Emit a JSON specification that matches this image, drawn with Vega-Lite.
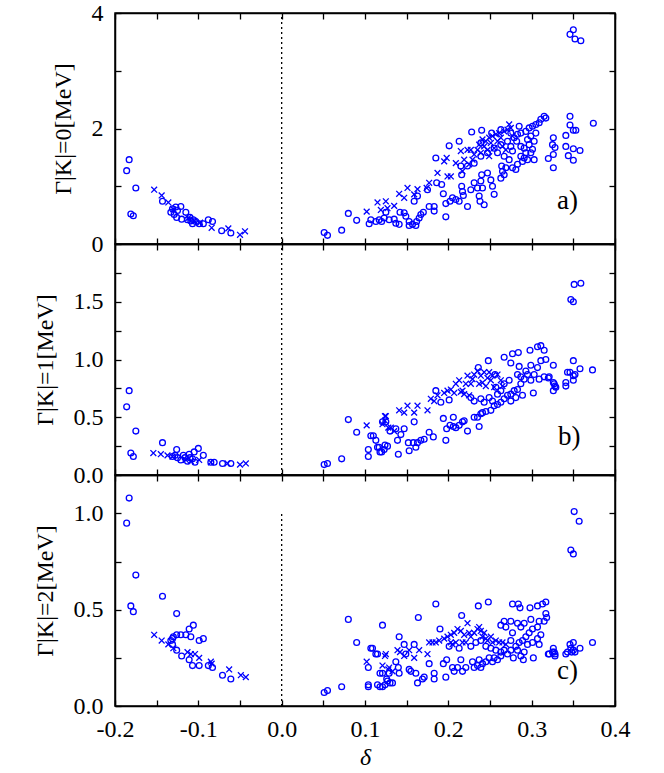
{
"$schema":"https://vega.github.io/schema/vega-lite/v6.json",
"background":"white",
"padding":{"left":32,"top":0,"right":10,"bottom":2},
"spacing":0,
"bounds":"flush",
"datasets":{
"a":[
{"d":-0.186,"g":1.27,"t":"o"},{"d":-0.183,"g":1.46,"t":"o"},{"d":-0.175,"g":0.97,"t":"o"},{"d":-0.181,"g":0.52,"t":"o"},{"d":-0.178,"g":0.49,"t":"o"},{"d":-0.143,"g":0.74,"t":"o"},{"d":-0.133,"g":0.55,"t":"o"},{"d":-0.131,"g":0.61,"t":"o"},{"d":-0.129,"g":0.51,"t":"o"},{"d":-0.127,"g":0.64,"t":"o"},{"d":-0.125,"g":0.58,"t":"o"},{"d":-0.126,"g":0.46,"t":"o"},{"d":-0.121,"g":0.65,"t":"o"},{"d":-0.115,"g":0.55,"t":"o"},{"d":-0.12,"g":0.43,"t":"o"},{"d":-0.113,"g":0.42,"t":"o"},{"d":-0.11,"g":0.46,"t":"o"},{"d":-0.109,"g":0.4,"t":"o"},{"d":-0.106,"g":0.42,"t":"o"},{"d":-0.103,"g":0.39,"t":"o"},{"d":-0.107,"g":0.35,"t":"o"},{"d":-0.099,"g":0.35,"t":"o"},{"d":-0.094,"g":0.35,"t":"o"},{"d":-0.088,"g":0.42,"t":"o"},{"d":-0.083,"g":0.39,"t":"o"},{"d":-0.072,"g":0.23,"t":"o"},{"d":-0.061,"g":0.19,"t":"o"},
{"d":0.051,"g":0.2,"t":"o"},{"d":0.055,"g":0.15,"t":"o"},{"d":0.072,"g":0.24,"t":"o"},{"d":0.08,"g":0.53,"t":"o"},{"d":0.09,"g":0.41,"t":"o"},
{"d":0.105,"g":0.35,"t":"o"},{"d":0.107,"g":0.42,"t":"o"},{"d":0.113,"g":0.39,"t":"o"},{"d":0.117,"g":0.42,"t":"o"},{"d":0.12,"g":0.39,"t":"o"},{"d":0.123,"g":0.45,"t":"o"},{"d":0.125,"g":0.55,"t":"o"},{"d":0.129,"g":0.42,"t":"o"},{"d":0.135,"g":0.43,"t":"o"},{"d":0.137,"g":0.36,"t":"o"},{"d":0.141,"g":0.34,"t":"o"},{"d":0.142,"g":0.55,"t":"o"},{"d":0.147,"g":0.54,"t":"o"},{"d":0.149,"g":0.48,"t":"o"},{"d":0.153,"g":0.39,"t":"o"},{"d":0.153,"g":0.32,"t":"o"},{"d":0.157,"g":0.34,"t":"o"},{"d":0.161,"g":0.32,"t":"o"},{"d":0.162,"g":0.39,"t":"o"},{"d":0.165,"g":0.45,"t":"o"},{"d":0.167,"g":0.51,"t":"o"},{"d":0.17,"g":0.55,"t":"o"},{"d":0.177,"g":0.65,"t":"o"},{"d":0.183,"g":0.65,"t":"o"},{"d":0.183,"g":0.57,"t":"o"},{"d":0.197,"g":0.47,"t":"o"},{"d":0.197,"g":0.7,"t":"o"},{"d":0.202,"g":0.74,"t":"o"},{"d":0.205,"g":0.8,"t":"o"},{"d":0.209,"g":0.77,"t":"o"},{"d":0.213,"g":0.74,"t":"o"},{"d":0.216,"g":1.0,"t":"o"},{"d":0.217,"g":0.91,"t":"o"},{"d":0.218,"g":0.84,"t":"o"},{"d":0.223,"g":0.65,"t":"o"},{"d":0.231,"g":1.06,"t":"o"},{"d":0.235,"g":0.97,"t":"o"},{"d":0.239,"g":1.09,"t":"o"},{"d":0.237,"g":0.83,"t":"o"},{"d":0.238,"g":0.74,"t":"o"},{"d":0.241,"g":0.97,"t":"o"},{"d":0.243,"g":0.68,"t":"o"},{"d":0.247,"g":1.23,"t":"o"},{"d":0.251,"g":1.11,"t":"o"},{"d":0.253,"g":1.0,"t":"o"},{"d":0.255,"g":0.86,"t":"o"},{"d":0.24,"g":1.2,"t":"o"},{"d":0.263,"g":1.14,"t":"o"},{"d":0.265,"g":1.26,"t":"o"},{"d":0.267,"g":1.2,"t":"o"},{"d":0.264,"g":1.35,"t":"o"},{"d":0.269,"g":1.32,"t":"o"},{"d":0.273,"g":1.46,"t":"o"},{"d":0.277,"g":1.32,"t":"o"},{"d":0.281,"g":1.29,"t":"o"},{"d":0.283,"g":1.38,"t":"o"},{"d":0.287,"g":1.52,"t":"o"},{"d":0.289,"g":1.43,"t":"o"},{"d":0.291,"g":1.49,"t":"o"},{"d":0.293,"g":1.58,"t":"o"},{"d":0.295,"g":1.46,"t":"o"},{"d":0.299,"g":1.58,"t":"o"},{"d":0.303,"g":1.46,"t":"o"},{"d":0.301,"g":1.64,"t":"o"},{"d":0.275,"g":1.69,"t":"o"},{"d":0.277,"g":1.61,"t":"o"},{"d":0.282,"g":1.78,"t":"o"},{"d":0.287,"g":1.69,"t":"o"},{"d":0.291,"g":1.66,"t":"o"},{"d":0.295,"g":1.81,"t":"o"},{"d":0.297,"g":1.72,"t":"o"},{"d":0.299,"g":1.87,"t":"o"},{"d":0.303,"g":1.78,"t":"o"},{"d":0.305,"g":1.92,"t":"o"},{"d":0.227,"g":0.94,"t":"o"},{"d":0.215,"g":1.35,"t":"o"},{"d":0.216,"g":1.2,"t":"o"},{"d":0.185,"g":1.49,"t":"o"},{"d":0.201,"g":1.7,"t":"o"},{"d":0.213,"g":1.78,"t":"o"},{"d":0.228,"g":1.94,"t":"o"},{"d":0.24,"g":1.97,"t":"o"},{"d":0.252,"g":1.92,"t":"o"},{"d":0.263,"g":1.98,"t":"o"},{"d":0.275,"g":1.92,"t":"o"},{"d":0.285,"g":2.04,"t":"o"},{"d":0.239,"g":1.75,"t":"o"},{"d":0.186,"g":1.06,"t":"o"},{"d":0.192,"g":1.03,"t":"o"},{"d":0.194,"g":0.87,"t":"o"},{"d":0.175,"g":0.94,"t":"o"},{"d":0.159,"g":0.74,"t":"o"},{"d":0.163,"g":0.83,"t":"o"},
{"d":0.311,"g":2.16,"t":"o"},{"d":0.315,"g":2.21,"t":"o"},{"d":0.317,"g":2.18,"t":"o"},{"d":0.309,"g":2.1,"t":"o"},{"d":0.305,"g":2.07,"t":"o"},{"d":0.301,"g":2.04,"t":"o"},{"d":0.297,"g":2.01,"t":"o"},{"d":0.293,"g":1.95,"t":"o"},{"d":0.287,"g":1.92,"t":"o"},{"d":0.283,"g":1.9,"t":"o"},{"d":0.279,"g":1.84,"t":"o"},{"d":0.271,"g":1.78,"t":"o"},{"d":0.263,"g":1.72,"t":"o"},{"d":0.255,"g":1.66,"t":"o"},{"d":0.247,"g":1.58,"t":"o"},{"d":0.239,"g":1.52,"t":"o"},{"d":0.231,"g":1.4,"t":"o"},{"d":0.223,"g":1.35,"t":"o"},{"d":0.259,"g":1.58,"t":"o"},{"d":0.267,"g":1.52,"t":"o"},
{"d":0.35,"g":3.71,"t":"o"},{"d":0.346,"g":3.63,"t":"o"},{"d":0.352,"g":3.55,"t":"o"},{"d":0.359,"g":3.52,"t":"o"},{"d":0.346,"g":2.21,"t":"o"},{"d":0.346,"g":2.06,"t":"o"},{"d":0.35,"g":1.97,"t":"o"},{"d":0.353,"g":1.97,"t":"o"},{"d":0.341,"g":1.88,"t":"o"},{"d":0.341,"g":1.69,"t":"o"},{"d":0.344,"g":1.53,"t":"o"},{"d":0.35,"g":1.45,"t":"o"},{"d":0.35,"g":1.65,"t":"o"},{"d":0.358,"g":1.62,"t":"o"},{"d":0.374,"g":2.09,"t":"o"},{"d":0.326,"g":1.84,"t":"o"},{"d":0.325,"g":1.72,"t":"o"},{"d":0.328,"g":1.67,"t":"o"},{"d":0.326,"g":1.55,"t":"o"},{"d":0.32,"g":1.48,"t":"o"},{"d":0.326,"g":1.32,"t":"o"},
{"d":-0.153,"g":0.94,"t":"x"},{"d":-0.144,"g":0.84,"t":"x"},{"d":-0.136,"g":0.72,"t":"x"},{"d":-0.13,"g":0.6,"t":"x"},{"d":-0.112,"g":0.45,"t":"x"},{"d":-0.105,"g":0.4,"t":"x"},{"d":-0.098,"g":0.37,"t":"x"},{"d":-0.084,"g":0.28,"t":"x"},{"d":-0.064,"g":0.27,"t":"x"},{"d":-0.05,"g":0.16,"t":"x"},{"d":-0.044,"g":0.22,"t":"x"},
{"d":0.102,"g":0.56,"t":"x"},{"d":0.115,"g":0.72,"t":"x"},{"d":0.119,"g":0.59,"t":"x"},{"d":0.125,"g":0.74,"t":"x"},{"d":0.127,"g":0.62,"t":"x"},{"d":0.135,"g":0.66,"t":"x"},{"d":0.141,"g":0.87,"t":"x"},{"d":0.147,"g":0.8,"t":"x"},{"d":0.151,"g":0.97,"t":"x"},{"d":0.159,"g":0.86,"t":"x"},{"d":0.163,"g":0.95,"t":"x"},{"d":0.174,"g":0.97,"t":"x"},{"d":0.177,"g":1.06,"t":"x"},{"d":0.187,"g":1.23,"t":"x"},{"d":0.195,"g":1.43,"t":"x"},{"d":0.198,"g":1.49,"t":"x"},{"d":0.199,"g":1.17,"t":"x"},{"d":0.203,"g":1.17,"t":"x"},{"d":0.209,"g":1.4,"t":"x"},{"d":0.215,"g":1.61,"t":"x"},{"d":0.217,"g":1.26,"t":"x"},{"d":0.219,"g":1.46,"t":"x"},{"d":0.223,"g":1.63,"t":"x"},{"d":0.225,"g":1.38,"t":"x"},{"d":0.227,"g":1.63,"t":"x"},{"d":0.229,"g":1.46,"t":"x"},{"d":0.231,"g":1.55,"t":"x"},{"d":0.235,"g":1.63,"t":"x"},{"d":0.237,"g":1.72,"t":"x"},{"d":0.239,"g":1.58,"t":"x"},{"d":0.241,"g":1.81,"t":"x"},{"d":0.243,"g":1.69,"t":"x"},{"d":0.245,"g":1.78,"t":"x"},{"d":0.247,"g":1.63,"t":"x"},{"d":0.249,"g":1.84,"t":"x"},{"d":0.251,"g":1.75,"t":"x"},{"d":0.253,"g":1.87,"t":"x"},{"d":0.255,"g":1.66,"t":"x"},{"d":0.257,"g":1.9,"t":"x"},{"d":0.259,"g":1.78,"t":"x"},{"d":0.261,"g":1.92,"t":"x"},{"d":0.263,"g":1.84,"t":"x"},{"d":0.267,"g":1.95,"t":"x"},{"d":0.271,"g":1.98,"t":"x"},{"d":0.273,"g":2.07,"t":"x"},{"d":0.275,"g":2.01,"t":"x"},{"d":0.277,"g":1.87,"t":"x"},{"d":0.265,"g":1.69,"t":"x"},{"d":0.269,"g":1.63,"t":"x"},{"d":0.249,"g":1.52,"t":"x"}
],
"b":[
{"d":-0.186,"g":0.59,"t":"o"},{"d":-0.183,"g":0.73,"t":"o"},{"d":-0.175,"g":0.38,"t":"o"},{"d":-0.181,"g":0.19,"t":"o"},{"d":-0.178,"g":0.16,"t":"o"},{"d":-0.143,"g":0.28,"t":"o"},{"d":-0.126,"g":0.22,"t":"o"},{"d":-0.1,"g":0.23,"t":"o"},{"d":-0.105,"g":0.2,"t":"o"},{"d":-0.094,"g":0.17,"t":"o"},{"d":-0.111,"g":0.18,"t":"o"},{"d":-0.131,"g":0.16,"t":"o"},{"d":-0.125,"g":0.15,"t":"o"},{"d":-0.121,"g":0.13,"t":"o"},{"d":-0.116,"g":0.15,"t":"o"},{"d":-0.113,"g":0.12,"t":"o"},{"d":-0.107,"g":0.14,"t":"o"},{"d":-0.104,"g":0.11,"t":"o"},{"d":-0.128,"g":0.17,"t":"o"},{"d":-0.071,"g":0.1,"t":"o"},{"d":-0.061,"g":0.1,"t":"o"},{"d":-0.085,"g":0.11,"t":"o"},{"d":-0.081,"g":0.11,"t":"o"},{"d":-0.118,"g":0.17,"t":"o"},{"d":-0.11,"g":0.15,"t":"o"},
{"d":0.051,"g":0.09,"t":"o"},{"d":0.055,"g":0.1,"t":"o"},{"d":0.072,"g":0.14,"t":"o"},{"d":0.08,"g":0.48,"t":"o"},{"d":0.09,"g":0.37,"t":"o"},{"d":0.104,"g":0.22,"t":"o"},{"d":0.104,"g":0.16,"t":"o"},{"d":0.107,"g":0.34,"t":"o"},{"d":0.113,"g":0.3,"t":"o"},{"d":0.115,"g":0.24,"t":"o"},{"d":0.118,"g":0.2,"t":"o"},{"d":0.121,"g":0.46,"t":"o"},{"d":0.124,"g":0.26,"t":"o"},
{"d":0.11,"g":0.34,"t":"o"},{"d":0.117,"g":0.24,"t":"o"},{"d":0.12,"g":0.2,"t":"o"},{"d":0.123,"g":0.22,"t":"o"},{"d":0.127,"g":0.25,"t":"o"},{"d":0.125,"g":0.46,"t":"o"},{"d":0.13,"g":0.38,"t":"o"},{"d":0.137,"g":0.4,"t":"o"},{"d":0.139,"g":0.3,"t":"o"},{"d":0.14,"g":0.18,"t":"o"},{"d":0.143,"g":0.35,"t":"o"},{"d":0.147,"g":0.4,"t":"o"},{"d":0.152,"g":0.28,"t":"o"},{"d":0.153,"g":0.21,"t":"o"},{"d":0.158,"g":0.28,"t":"o"},{"d":0.161,"g":0.24,"t":"o"},{"d":0.163,"g":0.28,"t":"o"},{"d":0.167,"g":0.3,"t":"o"},{"d":0.171,"g":0.31,"t":"o"},{"d":0.159,"g":0.46,"t":"o"},{"d":0.177,"g":0.37,"t":"o"},{"d":0.182,"g":0.33,"t":"o"},{"d":0.185,"g":0.73,"t":"o"},{"d":0.191,"g":0.63,"t":"o"},{"d":0.194,"g":0.49,"t":"o"},{"d":0.197,"g":0.3,"t":"o"},{"d":0.198,"g":0.4,"t":"o"},{"d":0.201,"g":0.65,"t":"o"},{"d":0.202,"g":0.43,"t":"o"},{"d":0.206,"g":0.5,"t":"o"},{"d":0.206,"g":0.42,"t":"o"},{"d":0.209,"g":0.41,"t":"o"},{"d":0.213,"g":0.43,"t":"o"},{"d":0.217,"g":0.46,"t":"o"},{"d":0.219,"g":0.47,"t":"o"},{"d":0.223,"g":0.38,"t":"o"},{"d":0.231,"g":0.5,"t":"o"},{"d":0.235,"g":0.5,"t":"o"},{"d":0.237,"g":0.42,"t":"o"},{"d":0.239,"g":0.53,"t":"o"},{"d":0.241,"g":0.54,"t":"o"},{"d":0.245,"g":0.55,"t":"o"},{"d":0.251,"g":0.56,"t":"o"},{"d":0.236,"g":0.93,"t":"o"},{"d":0.248,"g":0.99,"t":"o"},{"d":0.256,"g":0.87,"t":"o"},{"d":0.267,"g":1.02,"t":"o"},{"d":0.275,"g":0.97,"t":"o"},{"d":0.277,"g":1.05,"t":"o"},{"d":0.284,"g":1.06,"t":"o"},{"d":0.285,"g":0.94,"t":"o"},{"d":0.298,"g":1.08,"t":"o"},{"d":0.307,"g":1.11,"t":"o"},{"d":0.311,"g":1.12,"t":"o"},{"d":0.315,"g":1.08,"t":"o"},{"d":0.317,"g":1.0,"t":"o"},{"d":0.311,"g":0.99,"t":"o"},{"d":0.307,"g":0.93,"t":"o"},{"d":0.299,"g":0.95,"t":"o"},{"d":0.303,"g":0.87,"t":"o"},{"d":0.295,"g":0.87,"t":"o"},{"d":0.293,"g":0.9,"t":"o"},{"d":0.291,"g":0.83,"t":"o"},{"d":0.287,"g":0.79,"t":"o"},{"d":0.283,"g":0.74,"t":"o"},{"d":0.279,"g":0.73,"t":"o"},{"d":0.275,"g":0.7,"t":"o"},{"d":0.271,"g":0.69,"t":"o"},{"d":0.267,"g":0.66,"t":"o"},{"d":0.263,"g":0.63,"t":"o"},{"d":0.259,"g":0.61,"t":"o"},{"d":0.255,"g":0.6,"t":"o"},{"d":0.302,"g":0.71,"t":"o"},{"d":0.289,"g":0.69,"t":"o"},{"d":0.281,"g":0.67,"t":"o"},{"d":0.275,"g":0.64,"t":"o"},{"d":0.283,"g":0.87,"t":"o"},{"d":0.287,"g":0.85,"t":"o"},{"d":0.299,"g":0.82,"t":"o"},{"d":0.309,"g":0.83,"t":"o"},{"d":0.315,"g":0.85,"t":"o"},{"d":0.321,"g":0.85,"t":"o"},{"d":0.326,"g":0.95,"t":"o"},{"d":0.327,"g":0.79,"t":"o"},{"d":0.326,"g":0.73,"t":"o"},{"d":0.239,"g":0.66,"t":"o"},{"d":0.243,"g":0.63,"t":"o"},{"d":0.249,"g":0.67,"t":"o"},{"d":0.253,"g":0.64,"t":"o"},{"d":0.231,"g":0.64,"t":"o"},{"d":0.227,"g":0.67,"t":"o"},{"d":0.259,"g":0.7,"t":"o"},{"d":0.257,"g":0.76,"t":"o"},{"d":0.263,"g":0.73,"t":"o"},{"d":0.267,"g":0.79,"t":"o"},{"d":0.273,"g":0.82,"t":"o"},
{"d":0.347,"g":1.52,"t":"o"},{"d":0.35,"g":1.5,"t":"o"},{"d":0.351,"g":1.65,"t":"o"},{"d":0.359,"g":1.66,"t":"o"},{"d":0.35,"g":0.99,"t":"o"},{"d":0.343,"g":0.89,"t":"o"},{"d":0.346,"g":0.89,"t":"o"},{"d":0.35,"g":0.86,"t":"o"},{"d":0.352,"g":0.87,"t":"o"},{"d":0.358,"g":0.92,"t":"o"},{"d":0.373,"g":0.91,"t":"o"},{"d":0.35,"g":0.82,"t":"o"},{"d":0.341,"g":0.8,"t":"o"},{"d":0.341,"g":0.77,"t":"o"},{"d":0.32,"g":0.84,"t":"o"},{"d":0.326,"g":0.8,"t":"o"},{"d":0.328,"g":0.77,"t":"o"},{"d":0.329,"g":0.76,"t":"o"},
{"d":-0.154,"g":0.19,"t":"x"},{"d":-0.145,"g":0.18,"t":"x"},{"d":-0.137,"g":0.17,"t":"x"},{"d":-0.131,"g":0.16,"t":"x"},{"d":-0.115,"g":0.13,"t":"x"},{"d":-0.109,"g":0.12,"t":"x"},{"d":-0.099,"g":0.13,"t":"x"},{"d":-0.085,"g":0.11,"t":"x"},{"d":-0.065,"g":0.1,"t":"x"},{"d":-0.05,"g":0.09,"t":"x"},{"d":-0.043,"g":0.1,"t":"x"},
{"d":0.102,"g":0.43,"t":"x"},{"d":0.124,"g":0.51,"t":"x"},{"d":0.121,"g":0.44,"t":"x"},{"d":0.128,"g":0.41,"t":"x"},{"d":0.125,"g":0.51,"t":"x"},{"d":0.124,"g":0.47,"t":"x"},{"d":0.131,"g":0.41,"t":"x"},{"d":0.135,"g":0.38,"t":"x"},{"d":0.141,"g":0.56,"t":"x"},{"d":0.147,"g":0.54,"t":"x"},{"d":0.151,"g":0.6,"t":"x"},{"d":0.159,"g":0.54,"t":"x"},{"d":0.163,"g":0.6,"t":"x"},{"d":0.175,"g":0.56,"t":"x"},{"d":0.179,"g":0.66,"t":"x"},{"d":0.183,"g":0.64,"t":"x"},{"d":0.187,"g":0.69,"t":"x"},{"d":0.195,"g":0.71,"t":"x"},{"d":0.199,"g":0.73,"t":"x"},{"d":0.203,"g":0.74,"t":"x"},{"d":0.209,"g":0.79,"t":"x"},{"d":0.213,"g":0.82,"t":"x"},{"d":0.215,"g":0.72,"t":"x"},{"d":0.219,"g":0.7,"t":"x"},{"d":0.223,"g":0.86,"t":"x"},{"d":0.225,"g":0.69,"t":"x"},{"d":0.227,"g":0.79,"t":"x"},{"d":0.229,"g":0.83,"t":"x"},{"d":0.231,"g":0.87,"t":"x"},{"d":0.235,"g":0.9,"t":"x"},{"d":0.237,"g":0.79,"t":"x"},{"d":0.239,"g":0.86,"t":"x"},{"d":0.241,"g":0.8,"t":"x"},{"d":0.243,"g":0.89,"t":"x"},{"d":0.245,"g":0.77,"t":"x"},{"d":0.247,"g":0.84,"t":"x"},{"d":0.249,"g":0.89,"t":"x"},{"d":0.251,"g":0.82,"t":"x"},{"d":0.253,"g":0.86,"t":"x"},{"d":0.255,"g":0.76,"t":"x"},{"d":0.259,"g":0.87,"t":"x"},{"d":0.263,"g":0.82,"t":"x"},{"d":0.265,"g":0.77,"t":"x"},{"d":0.221,"g":0.79,"t":"x"},{"d":0.217,"g":0.73,"t":"x"},{"d":0.207,"g":0.71,"t":"x"}
],
"c":[
{"d":-0.183,"g":1.08,"t":"o"},{"d":-0.186,"g":0.95,"t":"o"},{"d":-0.175,"g":0.68,"t":"o"},{"d":-0.181,"g":0.52,"t":"o"},{"d":-0.178,"g":0.49,"t":"o"},{"d":-0.143,"g":0.57,"t":"o"},{"d":-0.126,"g":0.48,"t":"o"},{"d":-0.106,"g":0.42,"t":"o"},{"d":-0.111,"g":0.4,"t":"o"},{"d":-0.109,"g":0.36,"t":"o"},{"d":-0.115,"g":0.37,"t":"o"},{"d":-0.121,"g":0.37,"t":"o"},{"d":-0.126,"g":0.37,"t":"o"},{"d":-0.13,"g":0.36,"t":"o"},{"d":-0.131,"g":0.35,"t":"o"},{"d":-0.133,"g":0.34,"t":"o"},{"d":-0.131,"g":0.32,"t":"o"},{"d":-0.126,"g":0.29,"t":"o"},{"d":-0.12,"g":0.26,"t":"o"},{"d":-0.111,"g":0.24,"t":"o"},{"d":-0.107,"g":0.21,"t":"o"},{"d":-0.099,"g":0.21,"t":"o"},{"d":-0.099,"g":0.34,"t":"o"},{"d":-0.094,"g":0.35,"t":"o"},{"d":-0.088,"g":0.21,"t":"o"},{"d":-0.083,"g":0.2,"t":"o"},{"d":-0.071,"g":0.16,"t":"o"},{"d":-0.061,"g":0.14,"t":"o"},
{"d":0.051,"g":0.07,"t":"o"},{"d":0.055,"g":0.08,"t":"o"},{"d":0.072,"g":0.1,"t":"o"},{"d":0.08,"g":0.45,"t":"o"},{"d":0.09,"g":0.33,"t":"o"},{"d":0.107,"g":0.3,"t":"o"},{"d":0.113,"g":0.27,"t":"o"},{"d":0.104,"g":0.2,"t":"o"},{"d":0.104,"g":0.11,"t":"o"},{"d":0.104,"g":0.1,"t":"o"},{"d":0.115,"g":0.11,"t":"o"},{"d":0.118,"g":0.17,"t":"o"},{"d":0.118,"g":0.1,"t":"o"},{"d":0.124,"g":0.11,"t":"o"},{"d":0.13,"g":0.12,"t":"o"},{"d":0.121,"g":0.42,"t":"o"},
{"d":0.121,"g":0.1,"t":"o"},{"d":0.127,"g":0.13,"t":"o"},{"d":0.133,"g":0.12,"t":"o"},{"d":0.109,"g":0.3,"t":"o"},{"d":0.115,"g":0.27,"t":"o"},{"d":0.126,"g":0.14,"t":"o"},{"d":0.121,"g":0.17,"t":"o"},{"d":0.129,"g":0.17,"t":"o"},{"d":0.137,"g":0.23,"t":"o"},{"d":0.141,"g":0.36,"t":"o"},{"d":0.14,"g":0.2,"t":"o"},{"d":0.141,"g":0.17,"t":"o"},{"d":0.147,"g":0.32,"t":"o"},{"d":0.149,"g":0.27,"t":"o"},{"d":0.153,"g":0.19,"t":"o"},{"d":0.155,"g":0.18,"t":"o"},{"d":0.159,"g":0.32,"t":"o"},{"d":0.161,"g":0.17,"t":"o"},{"d":0.163,"g":0.12,"t":"o"},{"d":0.164,"g":0.46,"t":"o"},{"d":0.169,"g":0.14,"t":"o"},{"d":0.171,"g":0.15,"t":"o"},{"d":0.177,"g":0.22,"t":"o"},{"d":0.183,"g":0.17,"t":"o"},{"d":0.183,"g":0.14,"t":"o"},{"d":0.185,"g":0.53,"t":"o"},{"d":0.19,"g":0.4,"t":"o"},{"d":0.194,"g":0.22,"t":"o"},{"d":0.197,"g":0.15,"t":"o"},{"d":0.198,"g":0.24,"t":"o"},{"d":0.201,"g":0.31,"t":"o"},{"d":0.205,"g":0.2,"t":"o"},{"d":0.207,"g":0.18,"t":"o"},{"d":0.211,"g":0.2,"t":"o"},{"d":0.215,"g":0.24,"t":"o"},{"d":0.216,"g":0.47,"t":"o"},{"d":0.217,"g":0.18,"t":"o"},{"d":0.213,"g":0.3,"t":"o"},{"d":0.221,"g":0.2,"t":"o"},{"d":0.229,"g":0.23,"t":"o"},{"d":0.231,"g":0.2,"t":"o"},{"d":0.235,"g":0.21,"t":"o"},{"d":0.237,"g":0.24,"t":"o"},{"d":0.236,"g":0.52,"t":"o"},{"d":0.239,"g":0.2,"t":"o"},{"d":0.241,"g":0.22,"t":"o"},{"d":0.245,"g":0.23,"t":"o"},{"d":0.248,"g":0.54,"t":"o"},{"d":0.249,"g":0.25,"t":"o"},{"d":0.253,"g":0.23,"t":"o"},{"d":0.255,"g":0.25,"t":"o"},{"d":0.259,"g":0.24,"t":"o"},{"d":0.263,"g":0.26,"t":"o"},{"d":0.267,"g":0.44,"t":"o"},{"d":0.275,"g":0.44,"t":"o"},{"d":0.277,"g":0.53,"t":"o"},{"d":0.284,"g":0.53,"t":"o"},{"d":0.298,"g":0.51,"t":"o"},{"d":0.307,"g":0.52,"t":"o"},{"d":0.313,"g":0.53,"t":"o"},{"d":0.317,"g":0.54,"t":"o"},{"d":0.317,"g":0.48,"t":"o"},{"d":0.318,"g":0.46,"t":"o"},{"d":0.315,"g":0.44,"t":"o"},{"d":0.309,"g":0.44,"t":"o"},{"d":0.307,"g":0.41,"t":"o"},{"d":0.301,"g":0.4,"t":"o"},{"d":0.297,"g":0.38,"t":"o"},{"d":0.293,"g":0.36,"t":"o"},{"d":0.289,"g":0.34,"t":"o"},{"d":0.285,"g":0.33,"t":"o"},{"d":0.281,"g":0.31,"t":"o"},{"d":0.275,"g":0.29,"t":"o"},{"d":0.271,"g":0.27,"t":"o"},{"d":0.269,"g":0.41,"t":"o"},{"d":0.263,"g":0.42,"t":"o"},{"d":0.277,"g":0.38,"t":"o"},{"d":0.283,"g":0.43,"t":"o"},{"d":0.287,"g":0.41,"t":"o"},{"d":0.291,"g":0.43,"t":"o"},{"d":0.299,"g":0.45,"t":"o"},{"d":0.301,"g":0.33,"t":"o"},{"d":0.295,"g":0.32,"t":"o"},{"d":0.291,"g":0.28,"t":"o"},{"d":0.287,"g":0.26,"t":"o"},{"d":0.283,"g":0.29,"t":"o"},{"d":0.278,"g":0.25,"t":"o"},{"d":0.29,"g":0.24,"t":"o"},{"d":0.302,"g":0.25,"t":"o"},{"d":0.275,"g":0.34,"t":"o"},{"d":0.311,"g":0.37,"t":"o"},{"d":0.309,"g":0.32,"t":"o"},{"d":0.307,"g":0.35,"t":"o"},{"d":0.321,"g":0.27,"t":"o"},{"d":0.326,"g":0.3,"t":"o"},{"d":0.328,"g":0.27,"t":"o"},{"d":0.325,"g":0.28,"t":"o"},{"d":0.286,"g":0.51,"t":"o"},{"d":0.233,"g":0.33,"t":"o"},{"d":0.239,"g":0.34,"t":"o"},{"d":0.245,"g":0.31,"t":"o"},{"d":0.251,"g":0.3,"t":"o"},{"d":0.257,"g":0.29,"t":"o"},{"d":0.263,"g":0.28,"t":"o"},{"d":0.267,"g":0.29,"t":"o"},{"d":0.227,"g":0.31,"t":"o"},
{"d":0.351,"g":1.01,"t":"o"},{"d":0.357,"g":0.96,"t":"o"},{"d":0.347,"g":0.81,"t":"o"},{"d":0.35,"g":0.79,"t":"o"},{"d":0.35,"g":0.33,"t":"o"},{"d":0.346,"g":0.32,"t":"o"},{"d":0.347,"g":0.3,"t":"o"},{"d":0.35,"g":0.29,"t":"o"},{"d":0.348,"g":0.28,"t":"o"},{"d":0.352,"g":0.28,"t":"o"},{"d":0.343,"g":0.28,"t":"o"},{"d":0.341,"g":0.27,"t":"o"},{"d":0.358,"g":0.3,"t":"o"},{"d":0.373,"g":0.33,"t":"o"},{"d":0.327,"g":0.28,"t":"o"},{"d":0.328,"g":0.26,"t":"o"},{"d":0.32,"g":0.27,"t":"o"},
{"d":-0.153,"g":0.37,"t":"x"},{"d":-0.144,"g":0.34,"t":"x"},{"d":-0.136,"g":0.32,"t":"x"},{"d":-0.13,"g":0.3,"t":"x"},{"d":-0.113,"g":0.28,"t":"x"},{"d":-0.109,"g":0.27,"t":"x"},{"d":-0.104,"g":0.27,"t":"x"},{"d":-0.099,"g":0.25,"t":"x"},{"d":-0.085,"g":0.23,"t":"x"},{"d":-0.084,"g":0.22,"t":"x"},{"d":-0.063,"g":0.19,"t":"x"},{"d":-0.049,"g":0.16,"t":"x"},{"d":-0.043,"g":0.15,"t":"x"},
{"d":0.102,"g":0.23,"t":"x"},{"d":0.124,"g":0.26,"t":"x"},{"d":0.121,"g":0.21,"t":"x"},{"d":0.128,"g":0.19,"t":"x"},{"d":0.125,"g":0.27,"t":"x"},{"d":0.129,"g":0.2,"t":"x"},{"d":0.133,"g":0.18,"t":"x"},{"d":0.139,"g":0.29,"t":"x"},{"d":0.142,"g":0.28,"t":"x"},{"d":0.147,"g":0.26,"t":"x"},{"d":0.153,"g":0.29,"t":"x"},{"d":0.159,"g":0.25,"t":"x"},{"d":0.165,"g":0.29,"t":"x"},{"d":0.175,"g":0.27,"t":"x"},{"d":0.177,"g":0.33,"t":"x"},{"d":0.181,"g":0.33,"t":"x"},{"d":0.185,"g":0.33,"t":"x"},{"d":0.189,"g":0.34,"t":"x"},{"d":0.195,"g":0.35,"t":"x"},{"d":0.199,"g":0.36,"t":"x"},{"d":0.203,"g":0.37,"t":"x"},{"d":0.207,"g":0.38,"t":"x"},{"d":0.211,"g":0.4,"t":"x"},{"d":0.215,"g":0.39,"t":"x"},{"d":0.219,"g":0.37,"t":"x"},{"d":0.223,"g":0.43,"t":"x"},{"d":0.225,"g":0.38,"t":"x"},{"d":0.227,"g":0.36,"t":"x"},{"d":0.217,"g":0.33,"t":"x"},{"d":0.221,"g":0.33,"t":"x"},{"d":0.231,"g":0.38,"t":"x"},{"d":0.235,"g":0.4,"t":"x"},{"d":0.237,"g":0.41,"t":"x"},{"d":0.239,"g":0.39,"t":"x"},{"d":0.241,"g":0.36,"t":"x"},{"d":0.243,"g":0.38,"t":"x"},{"d":0.245,"g":0.35,"t":"x"},{"d":0.247,"g":0.34,"t":"x"},{"d":0.251,"g":0.36,"t":"x"},{"d":0.253,"g":0.33,"t":"x"},{"d":0.257,"g":0.34,"t":"x"},{"d":0.261,"g":0.33,"t":"x"},{"d":0.265,"g":0.33,"t":"x"},{"d":0.269,"g":0.32,"t":"x"},{"d":0.209,"g":0.33,"t":"x"},{"d":0.205,"g":0.32,"t":"x"},{"d":0.203,"g":0.33,"t":"x"}
],
"la":[{"d":0.343,"g":0.74,"lab":"a)"}],
"lb":[{"d":0.345,"g":0.33,"lab":"b)"}],
"lc":[{"d":0.343,"g":0.18,"lab":"c)"}],
"ra":[{"x0":0,"y0":0,"y1":4}],
"rb":[{"x0":0,"y0":0,"y1":2}],
"rc":[{"x0":0,"y0":0,"y1":1}]
},
"vconcat":[
{"width":500,"height":231,
 "layer":[
  {"data":{"name":"ra"},
   "mark":{"type":"rule","color":"black","strokeWidth":1.3,"strokeDash":[2,3]},
   "encoding":{
    "x":{"field":"x0","type":"quantitative","scale":{"domain":[-0.2,0.4],"nice":false,"zero":false},"axis":{"orient":"top","values":[-0.2,-0.15,-0.1,-0.05,0,0.05,0.1,0.15,0.2,0.25,0.3,0.35,0.4],"labels":false,"title":null}},
    "y":{"field":"y0","type":"quantitative","scale":{"domain":[0,4],"nice":false,"zero":false},"axis":{"orient":"right","values":[0,1,2,3,4],"labels":false,"title":null}},
    "y2":{"field":"y1"}}},
  {"data":{"name":"a"},
   "mark":{"type":"point","filled":false,"strokeWidth":1.3,"color":"#0000ff","opacity":1,"size":34},
   "encoding":{
    "x":{"field":"d","type":"quantitative","axis":{"orient":"bottom","values":[-0.2,-0.15,-0.1,-0.05,0,0.05,0.1,0.15,0.2,0.25,0.3,0.35,0.4],"labels":false,"title":null}},
    "y":{"field":"g","type":"quantitative","axis":{"orient":"left","values":[0,1,2,3,4],"labelExpr":"datum.value % 2 === 0 ? format(datum.value, 'd') : ''","title":"Γ|K|=0[MeV]","titlePadding":16}},
    "shape":{"field":"t","type":"nominal","scale":{"domain":["o","x"],"range":["circle","M-1,-1L1,1M-1,1L1,-1"]},"legend":null}
   }},
  {"data":{"name":"la"},
   "mark":{"type":"text","font":"Liberation Serif, DejaVu Serif, serif","fontSize":27,"color":"black"},
   "encoding":{"x":{"field":"d","type":"quantitative","axis":null},"y":{"field":"g","type":"quantitative","axis":null},"text":{"field":"lab"}}}
 ],
 "resolve":{"axis":{"x":"independent","y":"independent"}}
},
{"width":500,"height":231,
 "layer":[
  {"data":{"name":"rb"},
   "mark":{"type":"rule","color":"black","strokeWidth":1.3,"strokeDash":[2,3]},
   "encoding":{
    "x":{"field":"x0","type":"quantitative","scale":{"domain":[-0.2,0.4],"nice":false,"zero":false},"axis":{"orient":"top","values":[-0.2,-0.15,-0.1,-0.05,0,0.05,0.1,0.15,0.2,0.25,0.3,0.35,0.4],"labels":false,"title":null}},
    "y":{"field":"y0","type":"quantitative","scale":{"domain":[0,2],"nice":false,"zero":false},"axis":{"orient":"right","values":[0,0.25,0.5,0.75,1,1.25,1.5,1.75],"labels":false,"title":null}},
    "y2":{"field":"y1"}}},
  {"data":{"name":"b"},
   "mark":{"type":"point","filled":false,"strokeWidth":1.3,"color":"#0000ff","opacity":1,"size":34},
   "encoding":{
    "x":{"field":"d","type":"quantitative","axis":{"orient":"bottom","values":[-0.2,-0.15,-0.1,-0.05,0,0.05,0.1,0.15,0.2,0.25,0.3,0.35,0.4],"labels":false,"title":null}},
    "y":{"field":"g","type":"quantitative","axis":{"orient":"left","values":[0,0.25,0.5,0.75,1,1.25,1.5,1.75],"labelExpr":"round(datum.value*100) % 50 === 0 ? format(datum.value, '.1f') : ''","title":"Γ|K|=1[MeV]","titlePadding":16}},
    "shape":{"field":"t","type":"nominal","scale":{"domain":["o","x"],"range":["circle","M-1,-1L1,1M-1,1L1,-1"]},"legend":null}
   }},
  {"data":{"name":"lb"},
   "mark":{"type":"text","font":"Liberation Serif, DejaVu Serif, serif","fontSize":27,"color":"black"},
   "encoding":{"x":{"field":"d","type":"quantitative","axis":null},"y":{"field":"g","type":"quantitative","axis":null},"text":{"field":"lab"}}}
 ],
 "resolve":{"axis":{"x":"independent","y":"independent"}}
},
{"width":500,"height":231,
 "layer":[
  {"data":{"name":"rc"},
   "mark":{"type":"rule","color":"black","strokeWidth":1.3,"strokeDash":[2,3]},
   "encoding":{
    "x":{"field":"x0","type":"quantitative","scale":{"domain":[-0.2,0.4],"nice":false,"zero":false},"axis":{"orient":"top","values":[-0.2,-0.15,-0.1,-0.05,0,0.05,0.1,0.15,0.2,0.25,0.3,0.35,0.4],"labels":false,"title":null}},
    "y":{"field":"y0","type":"quantitative","scale":{"domain":[0,1.2],"nice":false,"zero":false},"axis":{"orient":"right","values":[0,0.25,0.5,0.75,1],"labels":false,"title":null}},
    "y2":{"field":"y1"}}},
  {"data":{"name":"c"},
   "mark":{"type":"point","filled":false,"strokeWidth":1.3,"color":"#0000ff","opacity":1,"size":34},
   "encoding":{
    "x":{"field":"d","type":"quantitative","axis":{"orient":"bottom","values":[-0.2,-0.15,-0.1,-0.05,0,0.05,0.1,0.15,0.2,0.25,0.3,0.35,0.4],"labelExpr":"abs(round(datum.value*100)) % 10 === 0 ? replace(format(datum.value, '.1f'), '−', '-') : ''","labelPadding":17,"title":"δ","titleFontStyle":"italic","titleFontSize":24,"titlePadding":4}},
    "y":{"field":"g","type":"quantitative","axis":{"orient":"left","values":[0,0.25,0.5,0.75,1],"labelExpr":"round(datum.value*100) % 50 === 0 ? format(datum.value, '.1f') : ''","title":"Γ|K|=2[MeV]","titlePadding":16}},
    "shape":{"field":"t","type":"nominal","scale":{"domain":["o","x"],"range":["circle","M-1,-1L1,1M-1,1L1,-1"]},"legend":null}
   }},
  {"data":{"name":"lc"},
   "mark":{"type":"text","font":"Liberation Serif, DejaVu Serif, serif","fontSize":27,"color":"black"},
   "encoding":{"x":{"field":"d","type":"quantitative","axis":null},"y":{"field":"g","type":"quantitative","axis":null},"text":{"field":"lab"}}}
 ],
 "resolve":{"axis":{"x":"independent","y":"independent"}}
}
],
"config":{
 "view":{"stroke":"black","strokeWidth":1.5},
 "font":"Liberation Serif, DejaVu Serif, serif",
 "axis":{"grid":false,"domainColor":"black","domainWidth":1.5,"tickColor":"black","tickWidth":1.3,"tickSize":-6,"labelFont":"Liberation Serif, DejaVu Serif, serif","labelFontSize":24,"labelColor":"black","labelFlush":false,"labelOverlap":false,"labelPadding":18,"titleFont":"Liberation Serif, DejaVu Serif, serif","titleFontSize":24,"titleFontWeight":"normal","titleColor":"black"}
}
}
